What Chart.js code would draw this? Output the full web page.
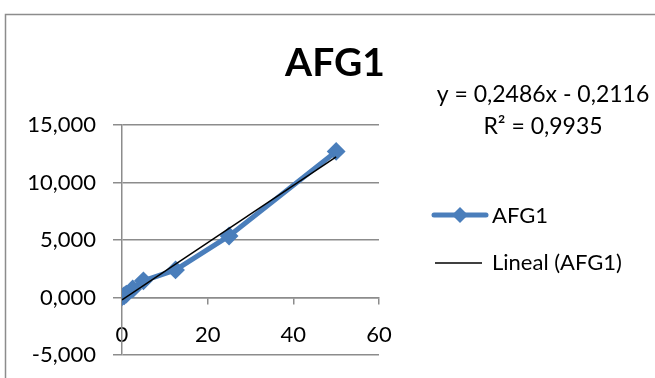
<!DOCTYPE html>
<html>
<head>
<meta charset="utf-8">
<script src="https://cdn.jsdelivr.net/npm/chart.js@4.4.0/dist/chart.umd.min.js"></script>
<style>
  html, body { margin: 0; padding: 0; background: #fff; }
  #wrap { width: 655px; height: 378px; position: relative; }
</style>
</head>
<body>
<div id="wrap"><canvas id="afg1"></canvas></div>
<script>
// concentration vs. response for AFG1
const concentrations = [0, 0.5, 1, 2.5, 5, 12.5, 25, 50];
const afg1Values = [0.05, 0.15, 0.3, 0.75, 1.45, 2.4, 5.35, 12.7];

// linear fit reported on the chart
const fitSlope = 0.2486;
const fitIntercept = -0.2116;
const fitR2 = 0.9935;

const xTicks = [0, 20, 40, 60];
const yTicks = [-5, 0, 5, 10, 15];

const BLUE = '#4a7ebb';
const GRID = '#8c8c8c';
const FONT = 'Lato, "Open Sans", sans-serif';

const fmt = v => v.toFixed(4).replace('.', ',');

const seriesPoints = concentrations.map((x, i) => ({ x: x, y: afg1Values[i] }));
const xFirst = concentrations[0];
const xLast = concentrations[concentrations.length - 1];
const fitPoints = [
  { x: xFirst, y: fitSlope * xFirst + fitIntercept },
  { x: xLast, y: fitSlope * xLast + fitIntercept }
];

// frame, title, trendline equation and legend
const decorations = {
  id: 'decorations',
  beforeDraw(chart) {
    const ctx = chart.ctx;
    ctx.save();
    ctx.strokeStyle = GRID;
    ctx.lineWidth = 1.5;
    ctx.strokeRect(5.5, 14.5, 720, 420);
    ctx.restore();
  },
  afterDraw(chart) {
    const ctx = chart.ctx;
    ctx.save();
    ctx.fillStyle = '#000';
    ctx.textBaseline = 'middle';

    ctx.font = 'bold 39px ' + FONT;
    ctx.textAlign = 'center';
    ctx.fillText('AFG1', 335, 63);

    ctx.font = '23px ' + FONT;
    ctx.fillText('y = ' + fmt(fitSlope) + 'x - ' + fmt(-fitIntercept), 543, 95);
    ctx.fillText('R² = ' + fmt(fitR2), 543, 127);

    // legend: series sample
    ctx.textAlign = 'left';
    ctx.strokeStyle = BLUE;
    ctx.lineWidth = 5;
    ctx.lineCap = 'round';
    ctx.beginPath();
    ctx.moveTo(434, 215);
    ctx.lineTo(486, 215);
    ctx.stroke();
    ctx.fillStyle = BLUE;
    ctx.beginPath();
    ctx.moveTo(460, 207);
    ctx.lineTo(468, 215);
    ctx.lineTo(460, 223);
    ctx.lineTo(452, 215);
    ctx.closePath();
    ctx.fill();
    ctx.fillStyle = '#000';
    ctx.font = '22px ' + FONT;
    ctx.fillText('AFG1', 492, 216);

    // legend: trendline sample
    ctx.strokeStyle = '#000';
    ctx.lineWidth = 1.5;
    ctx.lineCap = 'butt';
    ctx.beginPath();
    ctx.moveTo(435, 263);
    ctx.lineTo(482, 263);
    ctx.stroke();
    ctx.fillText('Lineal (AFG1)', 492, 263);
    ctx.restore();
  }
};

new Chart(document.getElementById('afg1'), {
  type: 'scatter',
  data: {
    datasets: [
      {
        label: 'Lineal (AFG1)',
        type: 'line',
        data: fitPoints,
        borderColor: '#000',
        borderWidth: 1.5,
        pointRadius: 0,
        order: 0
      },
      {
        label: 'AFG1',
        type: 'line',
        data: seriesPoints,
        borderColor: BLUE,
        backgroundColor: BLUE,
        borderWidth: 5,
        pointStyle: 'rectRot',
        pointRadius: 8,
        pointBorderWidth: 2,
        order: 1
      }
    ]
  },
  options: {
    responsive: true,
    maintainAspectRatio: false,
    animation: false,
    layout: { padding: { left: 0, top: 125, right: 276, bottom: 0 } },
    plugins: {
      legend: { display: false },
      title: { display: false },
      tooltip: { enabled: false }
    },
    scales: {
      x: {
        type: 'linear',
        min: 0,
        max: 60,
        position: { y: 0 },
        afterBuildTicks: s => { s.ticks = xTicks.map(v => ({ value: v })); },
        afterFit: s => { s.height = 0; s.paddingLeft = 0; s.paddingRight = 0; },
        ticks: { color: '#000', font: { family: FONT, size: 22 }, padding: 18, maxRotation: 0 },
        grid: { drawOnChartArea: false, drawTicks: true, tickLength: 6, color: GRID, lineWidth: 1.5 },
        border: { display: true, color: GRID, width: 1.5 }
      },
      y: {
        min: -5,
        max: 15,
        afterBuildTicks: s => { s.ticks = yTicks.map(v => ({ value: v })); },
        // reserve room below the lowest gridline for the frame
        afterFit: s => { s.width = 122; s.paddingTop = 0; s.paddingBottom = 23; },
        ticks: {
          color: '#000',
          font: { family: FONT, size: 22 },
          padding: 17,
          callback: v => v.toFixed(3).replace('.', ',')
        },
        grid: { drawTicks: true, tickLength: 9, color: GRID, lineWidth: 1.5 },
        border: { display: true, color: GRID, width: 1.5 }
      }
    }
  },
  plugins: [decorations]
});
</script>
</body>
</html>
